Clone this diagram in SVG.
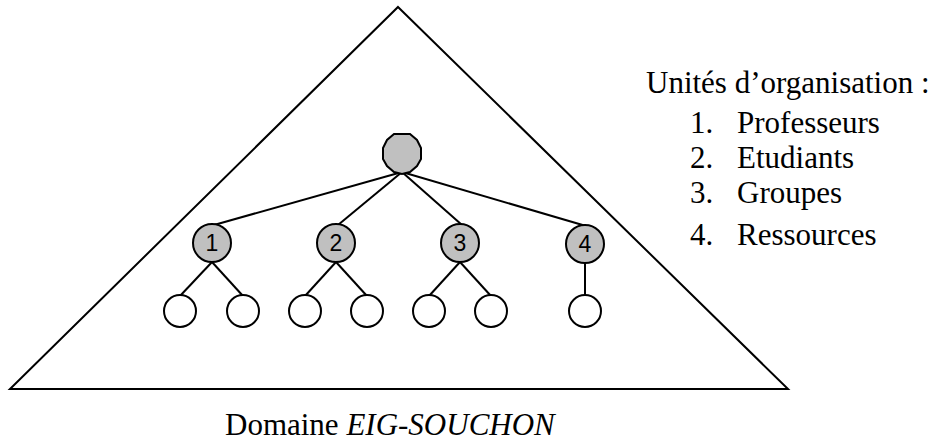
<svg xmlns="http://www.w3.org/2000/svg" width="938" height="441" viewBox="0 0 938 441">
<style>
.edge{stroke:#000;stroke-width:2;fill:none}
.inner{fill:#c0c0c0;stroke:#000;stroke-width:2}
.leaf{fill:#fff;stroke:#000;stroke-width:2}
.num{font-family:"Liberation Sans",Arial,sans-serif;font-size:23px;text-anchor:middle;fill:#000}
.txt{font-family:"Liberation Serif","Times New Roman",serif;font-size:31px;fill:#000}
</style>
<rect width="938" height="441" fill="#fff"/>
<g id="domain">
<polygon points="398,7 788,389 10,389" fill="none" stroke="#000" stroke-width="2"/>
</g>
<g id="connectors">
<line class="edge" x1="402" y1="172" x2="214" y2="225"/>
<line class="edge" x1="402" y1="172" x2="338" y2="225"/>
<line class="edge" x1="402" y1="172" x2="462" y2="225"/>
<line class="edge" x1="402" y1="172" x2="586" y2="226"/>
<line class="edge" x1="212" y1="262" x2="180" y2="296"/>
<line class="edge" x1="212" y1="262" x2="243" y2="296"/>
<line class="edge" x1="336" y1="262" x2="305" y2="296"/>
<line class="edge" x1="336" y1="262" x2="367" y2="296"/>
<line class="edge" x1="460" y1="262" x2="429" y2="296"/>
<line class="edge" x1="460" y1="262" x2="491" y2="296"/>
<line class="edge" x1="585" y1="262" x2="585" y2="295"/>
</g>
<g id="root"><path class="inner" d="M394,134 L410,134 L417,140 L421,148 L421,159 L417,166 L410,172 L402,174 L394,172 L387,166 L383,159 L383,148 L387,140 Z"/></g>
<g id="n1"><circle class="inner" cx="212" cy="243" r="19"/><text class="num" x="212" y="251">1</text></g>
<g id="n2"><circle class="inner" cx="336" cy="243" r="19"/><text class="num" x="336" y="251">2</text></g>
<g id="n3"><circle class="inner" cx="460" cy="243" r="19"/><text class="num" x="460" y="251">3</text></g>
<g id="n4"><circle class="inner" cx="585" cy="244" r="19"/><text class="num" x="585" y="252">4</text></g>
<g id="l1a"><circle class="leaf" cx="180" cy="311" r="16"/></g>
<g id="l1b"><circle class="leaf" cx="243" cy="311" r="16"/></g>
<g id="l2a"><circle class="leaf" cx="305" cy="311" r="16"/></g>
<g id="l2b"><circle class="leaf" cx="367" cy="311" r="16"/></g>
<g id="l3a"><circle class="leaf" cx="429" cy="311" r="16"/></g>
<g id="l3b"><circle class="leaf" cx="491" cy="311" r="16"/></g>
<g id="l4a"><circle class="leaf" cx="585" cy="311" r="16"/></g>
<g id="legend">
<text class="txt" x="646" y="93">Unités d’organisation :</text>
<text class="txt" x="690" y="133">1.</text><text class="txt" x="737" y="133">Professeurs</text>
<text class="txt" x="690" y="168">2.</text><text class="txt" x="737" y="168">Etudiants</text>
<text class="txt" x="690" y="203">3.</text><text class="txt" x="737" y="203">Groupes</text>
<text class="txt" x="690" y="245">4.</text><text class="txt" x="737" y="245">Ressources</text>
</g>
<g id="caption">
<text class="txt" x="225" y="435">Domaine <tspan font-style="italic">EIG-SOUCHON</tspan></text>
</g>
</svg>
